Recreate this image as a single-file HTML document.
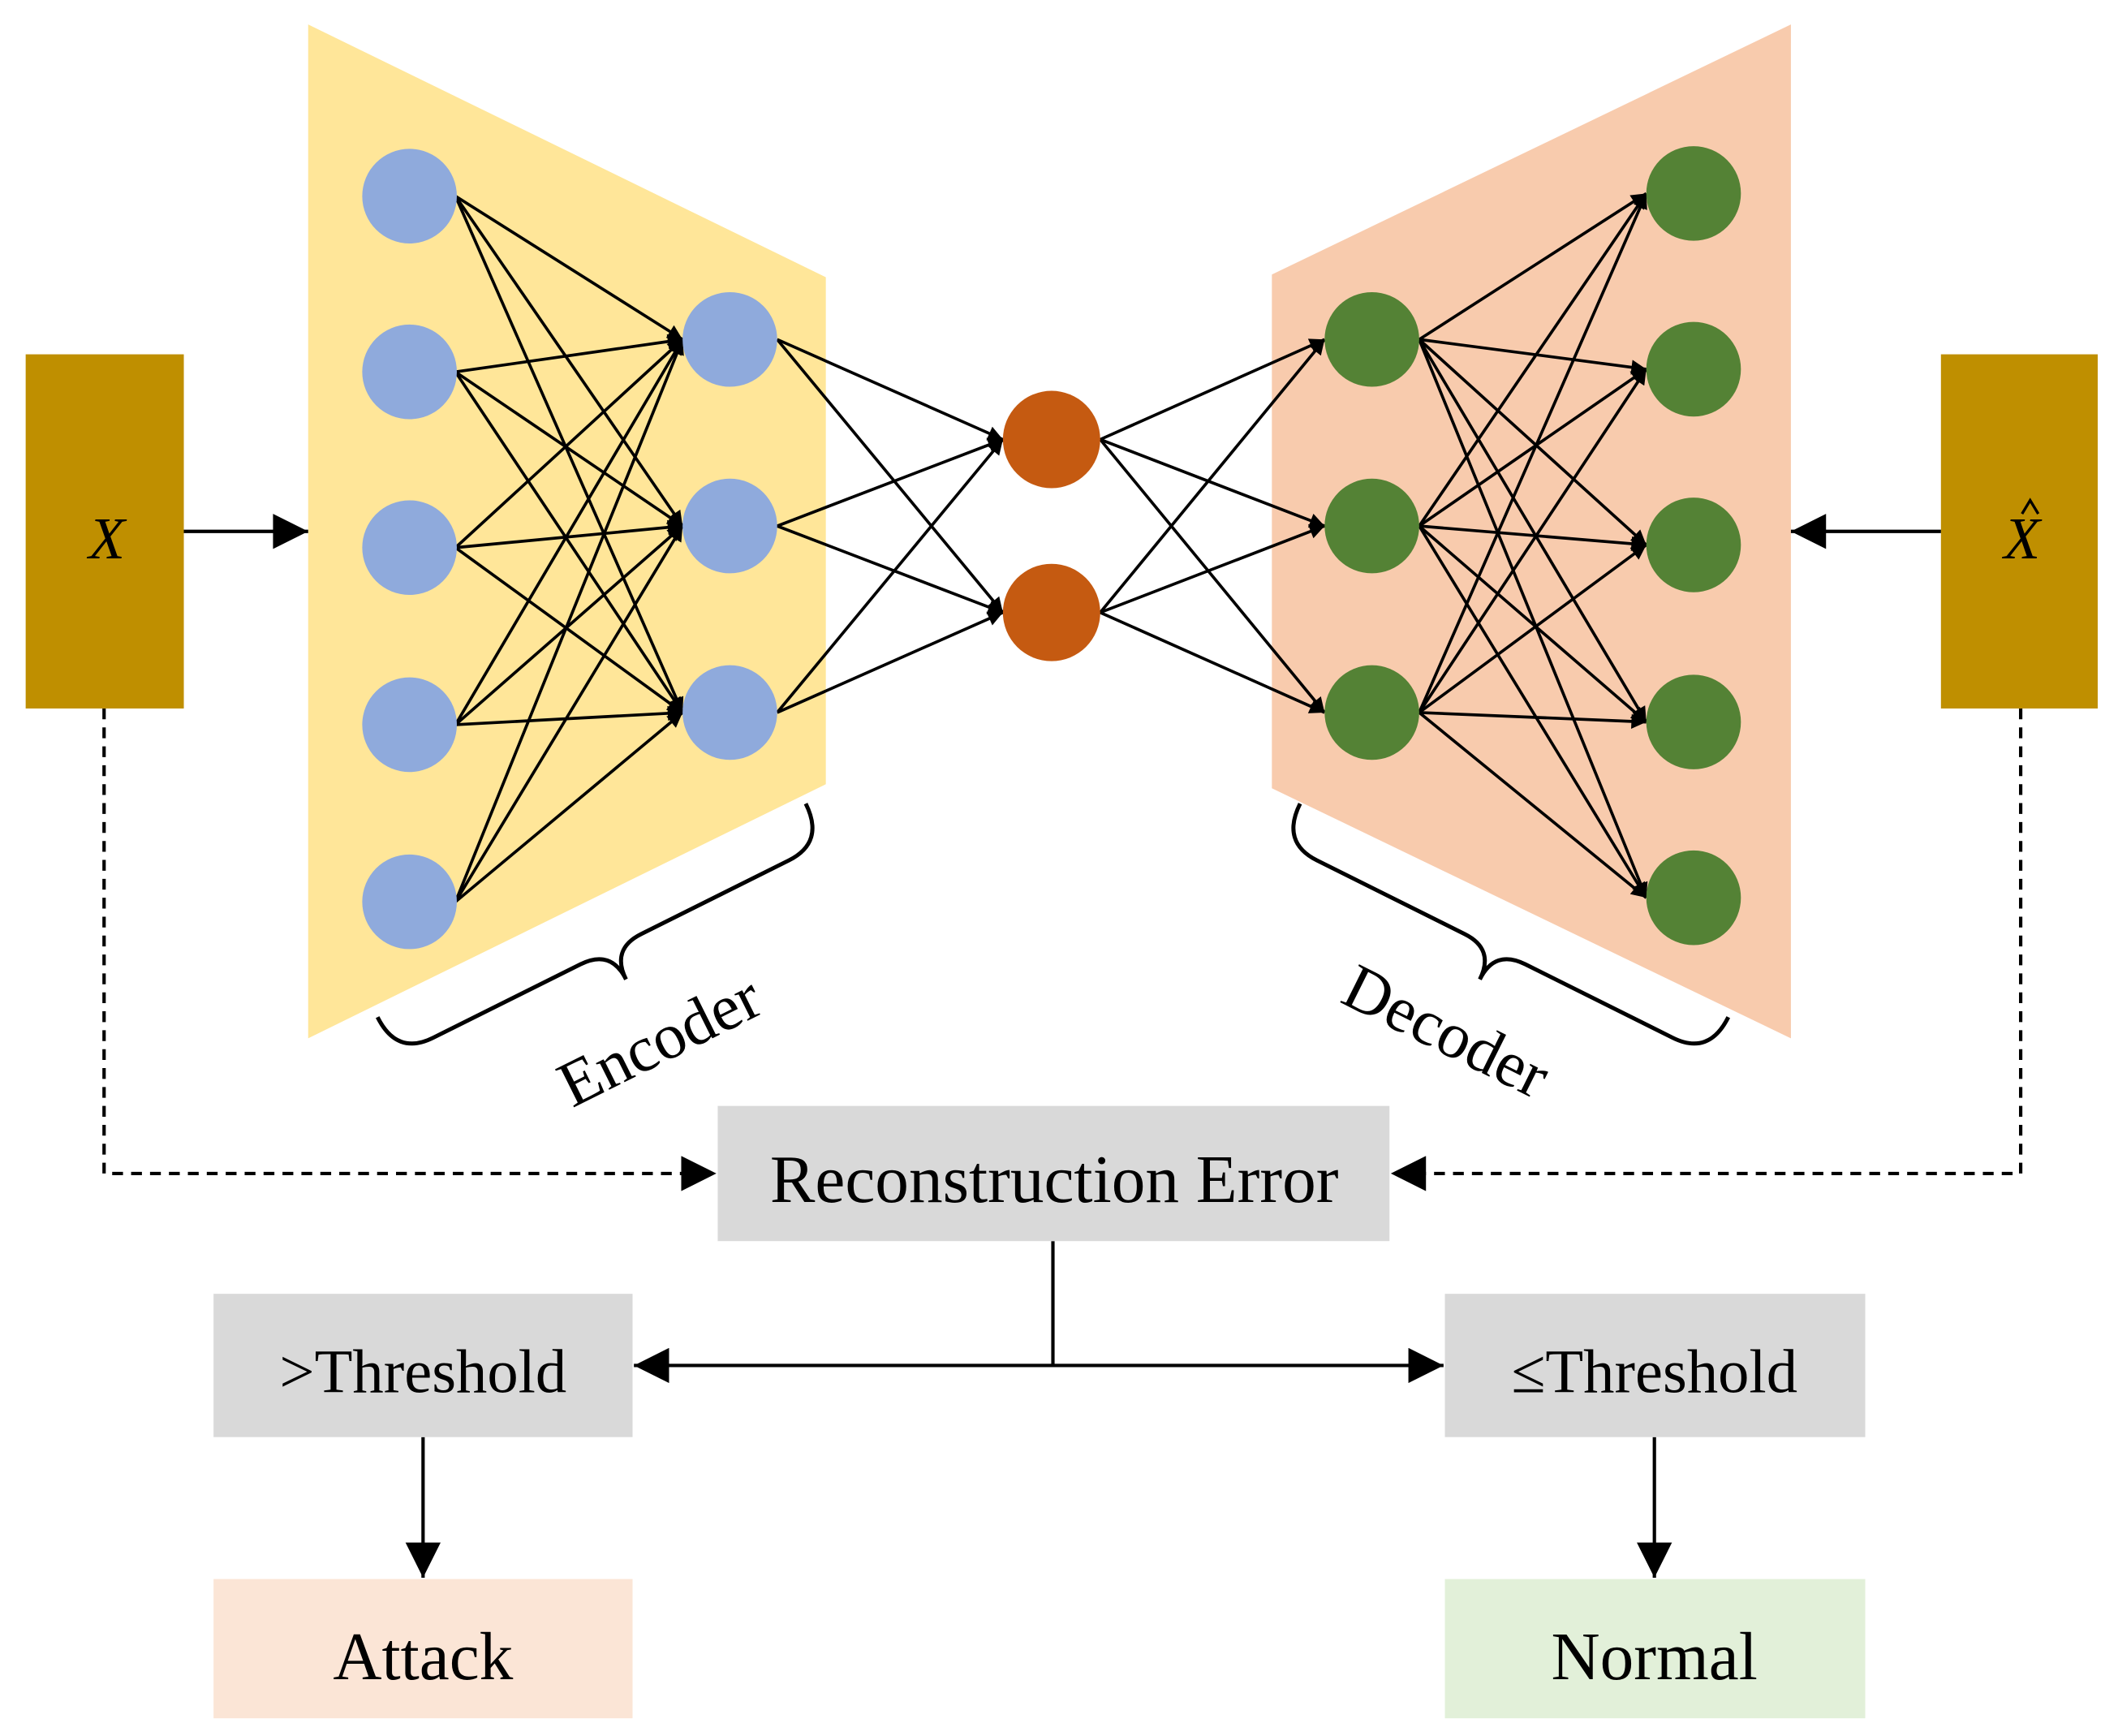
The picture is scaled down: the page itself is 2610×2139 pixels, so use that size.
<!DOCTYPE html>
<html><head><meta charset="utf-8"><style>html,body{margin:0;padding:0;background:#fff}svg{display:block}</style></head>
<body>
<svg width="2610" height="2139" viewBox="0 0 1567 1284" xmlns="http://www.w3.org/2000/svg" font-family="Liberation Serif, serif">
<defs>
<marker id="a" viewBox="0 0 10 10" refX="10" refY="5" markerWidth="13" markerHeight="11" markerUnits="userSpaceOnUse" orient="auto"><path d="M0,0 L10,5 L0,10 z" fill="#000"/></marker>
<marker id="b" viewBox="0 0 10 10" refX="10" refY="5" markerWidth="30" markerHeight="26" markerUnits="userSpaceOnUse" orient="auto"><path d="M0,0 L10,5 L0,10 z" fill="#000"/></marker>
</defs>
<polygon points="228,18 611,205 611,580 228,768" fill="#ffe699"/>
<polygon points="941,203 1325,18 1325,768 941,583" fill="#f8cbad"/>
<rect x="19" y="262" width="117" height="262" fill="#bf8f00"/>
<rect x="1436" y="262" width="116" height="262" fill="#bf8f00"/>
<text x="79" y="413" font-size="44" font-style="italic" text-anchor="middle">X</text>
<text x="1496" y="413" font-size="44" font-style="italic" text-anchor="middle">X</text>
<path d="M1496,380 L1502,370 L1508,380" stroke="#000" stroke-width="2" fill="none"/>
<g stroke="#000" stroke-width="2.2" marker-end="url(#a)" fill="none">
<line x1="337" y1="145" x2="505" y2="251"/><line x1="337" y1="145" x2="505" y2="389"/><line x1="337" y1="145" x2="505" y2="527"/>
<line x1="337" y1="275" x2="505" y2="251"/><line x1="337" y1="275" x2="505" y2="389"/><line x1="337" y1="275" x2="505" y2="527"/>
<line x1="337" y1="405" x2="505" y2="251"/><line x1="337" y1="405" x2="505" y2="389"/><line x1="337" y1="405" x2="505" y2="527"/>
<line x1="337" y1="536" x2="505" y2="251"/><line x1="337" y1="536" x2="505" y2="389"/><line x1="337" y1="536" x2="505" y2="527"/>
<line x1="337" y1="667" x2="505" y2="251"/><line x1="337" y1="667" x2="505" y2="389"/><line x1="337" y1="667" x2="505" y2="527"/>
<line x1="575" y1="251" x2="742" y2="325"/><line x1="575" y1="251" x2="742" y2="453"/>
<line x1="575" y1="389" x2="742" y2="325"/><line x1="575" y1="389" x2="742" y2="453"/>
<line x1="575" y1="527" x2="742" y2="325"/><line x1="575" y1="527" x2="742" y2="453"/>
<line x1="814" y1="325" x2="980" y2="251"/><line x1="814" y1="325" x2="980" y2="389"/><line x1="814" y1="325" x2="980" y2="527"/>
<line x1="814" y1="453" x2="980" y2="251"/><line x1="814" y1="453" x2="980" y2="389"/><line x1="814" y1="453" x2="980" y2="527"/>
<line x1="1050" y1="251" x2="1218" y2="143"/><line x1="1050" y1="251" x2="1218" y2="273"/><line x1="1050" y1="251" x2="1218" y2="403"/><line x1="1050" y1="251" x2="1218" y2="534"/><line x1="1050" y1="251" x2="1218" y2="664"/>
<line x1="1050" y1="389" x2="1218" y2="143"/><line x1="1050" y1="389" x2="1218" y2="273"/><line x1="1050" y1="389" x2="1218" y2="403"/><line x1="1050" y1="389" x2="1218" y2="534"/><line x1="1050" y1="389" x2="1218" y2="664"/>
<line x1="1050" y1="527" x2="1218" y2="143"/><line x1="1050" y1="527" x2="1218" y2="273"/><line x1="1050" y1="527" x2="1218" y2="403"/><line x1="1050" y1="527" x2="1218" y2="534"/><line x1="1050" y1="527" x2="1218" y2="664"/>
</g>
<g fill="#8faadc"><circle cx="303" cy="145" r="35"/><circle cx="303" cy="275" r="35"/><circle cx="303" cy="405" r="35"/><circle cx="303" cy="536" r="35"/><circle cx="303" cy="667" r="35"/>
<circle cx="540" cy="251" r="35"/><circle cx="540" cy="389" r="35"/><circle cx="540" cy="527" r="35"/></g>
<g fill="#c55a11"><circle cx="778" cy="325" r="36"/><circle cx="778" cy="453" r="36"/></g>
<g fill="#548235"><circle cx="1015" cy="251" r="35"/><circle cx="1015" cy="389" r="35"/><circle cx="1015" cy="527" r="35"/>
<circle cx="1253" cy="143" r="35"/><circle cx="1253" cy="273" r="35"/><circle cx="1253" cy="403" r="35"/><circle cx="1253" cy="534" r="35"/><circle cx="1253" cy="664" r="35"/></g>
<g stroke="#000" stroke-width="2.5" fill="none" marker-end="url(#b)">
<line x1="136" y1="393" x2="228" y2="393"/>
<line x1="1436" y1="393" x2="1325" y2="393"/>
<polyline points="77,524 77,868 530,868" stroke-dasharray="8,6"/>
<polyline points="1495,524 1495,868 1029,868" stroke-dasharray="8,6"/>
<line x1="779" y1="1010" x2="469" y2="1010"/>
<line x1="779" y1="1010" x2="1068" y2="1010"/>
<line x1="313" y1="1063" x2="313" y2="1167"/>
<line x1="1224" y1="1063" x2="1224" y2="1167"/>
</g>
<line x1="779" y1="918" x2="779" y2="1010" stroke="#000" stroke-width="2.5"/>
<g stroke="#000" stroke-width="3" fill="none">
<path transform="translate(452,702) rotate(-26.5)" d="M-177,-32 Q-177,0 -147,0 L-25,0 Q0,0 0,25 Q0,0 25,0 L147,0 Q177,0 177,-32"/>
<path transform="translate(1106,702) rotate(26.5)" d="M-177,-32 Q-177,0 -147,0 L-25,0 Q0,0 0,25 Q0,0 25,0 L147,0 Q177,0 177,-32"/>
</g>
<text transform="translate(495,784) rotate(-26.5)" font-size="48" text-anchor="middle">Encoder</text>
<text transform="translate(1063,777) rotate(26.5)" font-size="48" text-anchor="middle">Decoder</text>
<rect x="531" y="818" width="497" height="100" fill="#d9d9d9"/>
<text x="780" y="889" font-size="50" text-anchor="middle">Reconstruction Error</text>
<rect x="158" y="957" width="310" height="106" fill="#d9d9d9"/>
<text x="313" y="1030" font-size="46" text-anchor="middle">&gt;Threshold</text>
<rect x="1069" y="957" width="311" height="106" fill="#d9d9d9"/>
<text x="1224" y="1030" font-size="46" text-anchor="middle">≤Threshold</text>
<rect x="158" y="1168" width="310" height="103" fill="#fbe5d6"/>
<text x="313" y="1242" font-size="50" text-anchor="middle">Attack</text>
<rect x="1069" y="1168" width="311" height="103" fill="#e2f0d9"/>
<text x="1224" y="1242" font-size="50" text-anchor="middle">Normal</text>
</svg>
</body></html>
